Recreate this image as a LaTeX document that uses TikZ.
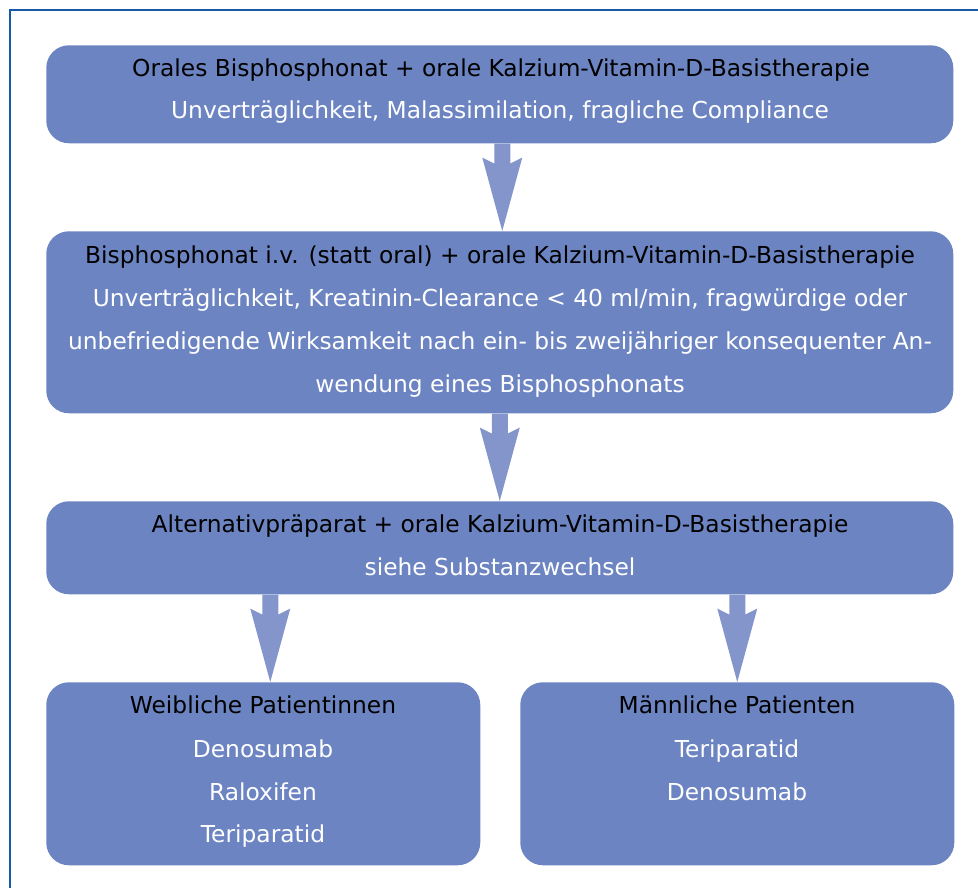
\documentclass[tikz,border=0pt]{standalone}
\usepackage{fontspec}
\setmainfont{DejaVu Sans}
\usetikzlibrary{calc}
\definecolor{boxc}{RGB}{108,132,194}
\definecolor{arrc}{RGB}{131,149,203}
\definecolor{framec}{RGB}{22,88,170}
\newcommand\blkarrow[2]{%
  \fill[arrc] let \p1=(#1), \p2=(#2) in
    (\x1-6pt,\y1) -- (\x1-6pt,\y1-15pt) -- (\x1-15pt,\y1-10.5pt) --
    (\x1,\y2) -- (\x1+15pt,\y1-10.5pt) -- (\x1+6pt,\y1-15pt) --
    (\x1+6pt,\y1) -- cycle;}
\begin{document}
\begin{tikzpicture}[x=0.75pt,y=-0.75pt,
  box/.style={fill=boxc, draw=none, rounded corners=17pt, inner sep=0pt, anchor=north west},
  hd/.style={anchor=base, font=\fontsize{17.5}{21}\selectfont, text=black, inner sep=0pt},
  tx/.style={hd, text=white}]
\useasboundingbox (0,0) rectangle (978,888);
\draw[framec, line width=1.5pt] (9.5,888) -- (9.5,10.5) -- (978,10.5);
% boxes
\node[box, minimum width=680.25pt, minimum height=73.5pt] (b1) at (46,45) {};
\node[box, minimum width=680.25pt, minimum height=136.5pt] (b2) at (46,231) {};
\node[box, minimum width=680.25pt, minimum height=69.75pt] (b3) at (46,501) {};
\node[box, minimum width=325.5pt, minimum height=137.25pt] (b4) at (46,682) {};
\node[box, minimum width=325.5pt, minimum height=137.25pt] (b5) at (520,682) {};
% texts
\node[hd] (t11) at (501,77) {Orales Bisphosphonat + orale Kalzium-Vitamin-D-Basistherapie};
\node[tx] (t12) at (500,119) {Unverträglichkeit, Malassimilation, fragliche Compliance};
\node[hd] (t21) at (500,263) {Bisphosphonat i.v. (statt oral) + orale Kalzium-Vitamin-D-Basistherapie};
\node[tx] (t22) at (500,306) {Unverträglichkeit, Kreatinin-Clearance < 40 ml/min, fragwürdige oder};
\node[tx] (t23) at (500,349) {unbefriedigende Wirksamkeit nach ein- bis zweijähriger konsequenter An-};
\node[tx] (t24) at (500,392) {wendung eines Bisphosphonats};
\node[hd] (t31) at (500,532) {Alternativpräparat + orale Kalzium-Vitamin-D-Basistherapie};
\node[tx] (t32) at (500,575) {siehe Substanzwechsel};
\node[hd] (t41) at (263,713) {Weibliche Patientinnen};
\node[tx] (t42) at (263,757) {Denosumab};
\node[tx] (t43) at (263,800) {Raloxifen};
\node[tx] (t44) at (263,842) {Teriparatid};
\node[hd] (t51) at (737,713) {Männliche Patienten};
\node[tx] (t52) at (737,757) {Teriparatid};
\node[tx] (t53) at (737,800) {Denosumab};
% arrows
\coordinate (a1) at ($(b1.south)+(2.5,0)$);
\coordinate (a3) at ($(b3.south -| b4.north)+(7,0)$);
\coordinate (a4) at (b3.south -| b5.north);
\blkarrow{a1}{b2.north}
\blkarrow{b2.south}{b3.north}
\blkarrow{a3}{b4.north}
\blkarrow{a4}{b5.north}
\end{tikzpicture}
\end{document}
